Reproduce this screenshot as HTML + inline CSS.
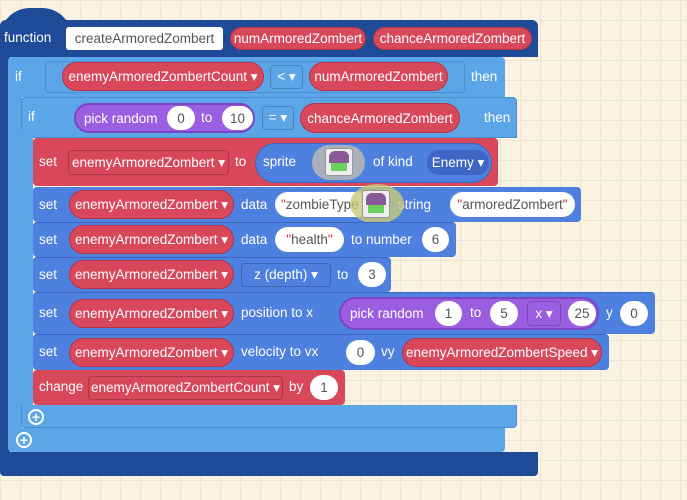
<!DOCTYPE html>
<html><head><meta charset="utf-8"><style>
body{margin:0;width:687px;height:500px;overflow:hidden;background:#fcf2e2;
background-image:linear-gradient(#efe3d2 1px,transparent 1px),linear-gradient(90deg,#efe3d2 1px,transparent 1px);background-size:20px 20px;position:relative;font-family:"Liberation Sans",sans-serif}
div{position:absolute;box-sizing:border-box}
.t{color:#fff;font-size:13.5px;line-height:16px;white-space:nowrap}
.c{display:flex;align-items:center;justify-content:center;color:#fff;font-size:13.5px;white-space:nowrap}
.red{background:#d9485a;border:1px solid #b33446;border-radius:15px}
.wh{background:#fff;color:#555;border-radius:14px}
.dd{border:1px solid rgba(0,0,0,.2);border-radius:4px}
.db{background:#1f4a98}.lb{background:#5ca6e8}.bl{background:#4e80e0}.rd{background:#d9485a}
.pu{background:#9b5ee0;border:2px solid #7b45c4;border-radius:17px}
.ic{background:#eee;border:1px solid #999;border-radius:3px}
.ov{background:#a9b0bc;border-radius:18px}
</style></head><body>
<!-- function block -->
<div class="db" style="left:0;top:20px;width:538px;height:37px;border-radius:6px 6px 0 0"></div>
<div class="db" style="left:0;top:8px;width:72px;height:30px;border-radius:36px 36px 0 0"></div>
<div class="db" style="left:0;top:50px;width:10px;height:420px"></div>
<div class="db" style="left:0;top:452px;width:538px;height:24px;border-radius:0 0 4px 4px"></div>
<div class="t" style="left:4px;top:30px">function</div>
<div class="c" style="left:66px;top:27px;width:157px;height:23px;background:#fff;color:#555;border-radius:3px">createArmoredZombert</div>
<div class="c red" style="left:230px;top:27px;width:136px;height:23px">numArmoredZombert</div>
<div class="c red" style="left:373px;top:27px;width:159px;height:23px">chanceArmoredZombert</div>
<!-- outer if -->
<div class="lb" style="left:8px;top:57px;width:497px;height:40px;border-radius:4px 4px 0 0"></div>
<div class="lb" style="left:8px;top:90px;width:14px;height:350px"></div>
<div class="lb" style="left:8px;top:428px;width:497px;height:24px;border-radius:0 0 4px 4px"></div>
<div class="t" style="left:15px;top:69px">if</div>
<div style="left:45px;top:61px;width:420px;height:32px;border:1px solid #4a8fd0;border-radius:4px"></div>
<div class="c red" style="left:62px;top:62px;width:202px;height:29px">enemyArmoredZombertCount ▾</div>
<div class="c dd" style="left:270px;top:65px;width:33px;height:24px">&lt; ▾</div>
<div class="c red" style="left:309px;top:62px;width:139px;height:29px">numArmoredZombert</div>
<div class="t" style="left:471px;top:69px">then</div>
<div class="c" style="left:16px;top:432px;width:16px;height:16px;border:2px solid #fff;border-radius:50%;font-weight:bold;font-size:14px">+</div>
<!-- inner if -->
<div class="lb" style="left:21px;top:97px;width:496px;height:41px;border-radius:4px 4px 0 0;border:1px solid #4a8fd0"></div>
<div class="lb" style="left:21px;top:130px;width:12px;height:290px"></div>
<div class="lb" style="left:21px;top:405px;width:496px;height:23px;border-radius:0 0 4px 4px;border:1px solid #4a8fd0;border-top:0"></div>
<div class="t" style="left:28px;top:109px">if</div>
<div class="c pu" style="left:74px;top:103px;width:181px;height:30px;justify-content:flex-start;padding-left:8px">pick random</div>
<div class="c wh" style="left:167px;top:106px;width:28px;height:24px">0</div>
<div class="t" style="left:201px;top:110px">to</div>
<div class="c wh" style="left:222px;top:106px;width:31px;height:24px">10</div>
<div class="c dd" style="left:262px;top:106px;width:32px;height:24px">= ▾</div>
<div class="c red" style="left:300px;top:103px;width:160px;height:30px">chanceArmoredZombert</div>
<div class="t" style="left:484px;top:110px">then</div>
<div class="c" style="left:28px;top:409px;width:16px;height:16px;border:2px solid #fff;border-radius:50%;font-weight:bold;font-size:14px">+</div>
<!-- set sprite -->
<div class="rd" style="left:33px;top:138px;width:465px;height:48px;border-radius:4px"></div>
<div class="t" style="left:39px;top:154px">set</div>
<div class="c dd" style="left:68px;top:150px;width:161px;height:25px">enemyArmoredZombert ▾</div>
<div class="t" style="left:235px;top:154px">to</div>
<div class="bl" style="left:255px;top:143px;width:237px;height:40px;border-radius:20px;border:1px solid #3c66c0"></div>
<div class="t" style="left:263px;top:154px">sprite</div>
<div class="ov" style="left:312px;top:145px;width:53px;height:35px"></div>
<div class="ic" style="left:325px;top:148px;width:28px;height:28px"></div>
<div style="left:329px;top:151px;width:20px;height:12px;background:#8a5a98;border-radius:6px 6px 0 0"></div>
<div style="left:331px;top:163px;width:16px;height:8px;background:#6bd05c"></div>
<div class="t" style="left:373px;top:154px">of kind</div>
<div class="c" style="left:427px;top:150px;width:62px;height:25px;background:#3f66c4;border-radius:12px">Enemy ▾</div>
<!-- data zombieType -->
<div class="bl" style="left:33px;top:187px;width:548px;height:35px;border-radius:4px"></div>
<div class="t" style="left:39px;top:197px">set</div>
<div class="c red" style="left:69px;top:190px;width:165px;height:29px">enemyArmoredZombert ▾</div>
<div class="t" style="left:241px;top:197px">data</div>
<div class="c wh" style="left:275px;top:192px;width:95px;height:25px;justify-content:flex-start;padding-left:6px"><span style="color:#d33">"</span>zombieType</div>
<div class="t" style="left:398px;top:197px">string</div>
<div style="left:350px;top:184px;width:54px;height:40px;border-radius:50%;background:rgba(200,200,120,.8)"></div>
<div class="ic" style="left:362px;top:190px;width:28px;height:28px"></div>
<div style="left:366px;top:193px;width:20px;height:12px;background:#8a5a98;border-radius:6px 6px 0 0"></div>
<div style="left:368px;top:205px;width:16px;height:8px;background:#6bd05c"></div>
<div class="c wh" style="left:450px;top:192px;width:125px;height:25px"><span style="color:#d33">"</span>armoredZombert<span style="color:#d33">"</span></div>
<!-- health -->
<div class="bl" style="left:33px;top:222px;width:423px;height:35px;border-radius:4px;border-top:1px solid #3c66c0"></div>
<div class="t" style="left:39px;top:232px">set</div>
<div class="c red" style="left:69px;top:225px;width:165px;height:29px">enemyArmoredZombert ▾</div>
<div class="t" style="left:241px;top:232px">data</div>
<div class="c wh" style="left:275px;top:227px;width:69px;height:25px"><span style="color:#d33">"</span>health<span style="color:#d33">"</span></div>
<div class="t" style="left:351px;top:232px">to number</div>
<div class="c wh" style="left:422px;top:227px;width:27px;height:25px">6</div>
<!-- z -->
<div class="bl" style="left:33px;top:257px;width:358px;height:35px;border-radius:4px;border-top:1px solid #3c66c0"></div>
<div class="t" style="left:39px;top:267px">set</div>
<div class="c red" style="left:69px;top:260px;width:165px;height:29px">enemyArmoredZombert ▾</div>
<div class="c dd" style="left:241px;top:263px;width:90px;height:24px">z (depth) ▾</div>
<div class="t" style="left:337px;top:267px">to</div>
<div class="c wh" style="left:358px;top:262px;width:28px;height:25px">3</div>
<!-- position -->
<div class="bl" style="left:33px;top:292px;width:622px;height:42px;border-radius:4px;border-top:1px solid #3c66c0"></div>
<div class="t" style="left:39px;top:305px">set</div>
<div class="c red" style="left:69px;top:299px;width:165px;height:29px">enemyArmoredZombert ▾</div>
<div class="t" style="left:241px;top:305px">position to x</div>
<div class="c pu" style="left:339px;top:297px;width:260px;height:33px;justify-content:flex-start;padding-left:9px">pick random</div>
<div class="c wh" style="left:435px;top:301px;width:27px;height:25px">1</div>
<div class="t" style="left:470px;top:305px">to</div>
<div class="c wh" style="left:490px;top:301px;width:28px;height:25px">5</div>
<div class="c dd" style="left:527px;top:301px;width:34px;height:25px">x ▾</div>
<div class="c wh" style="left:568px;top:301px;width:28px;height:25px">25</div>
<div class="t" style="left:606px;top:305px">y</div>
<div class="c wh" style="left:620px;top:301px;width:28px;height:25px">0</div>
<!-- velocity -->
<div class="bl" style="left:33px;top:334px;width:576px;height:36px;border-radius:4px;border-top:1px solid #3c66c0"></div>
<div class="t" style="left:39px;top:344px">set</div>
<div class="c red" style="left:69px;top:338px;width:165px;height:29px">enemyArmoredZombert ▾</div>
<div class="t" style="left:241px;top:344px">velocity to vx</div>
<div class="c wh" style="left:346px;top:340px;width:29px;height:25px">0</div>
<div class="t" style="left:381px;top:344px">vy</div>
<div class="c red" style="left:402px;top:338px;width:200px;height:29px">enemyArmoredZombertSpeed ▾</div>
<!-- change -->
<div class="rd" style="left:33px;top:370px;width:312px;height:35px;border-radius:4px"></div>
<div class="t" style="left:39px;top:379px">change</div>
<div class="c dd" style="left:88px;top:376px;width:195px;height:24px">enemyArmoredZombertCount ▾</div>
<div class="t" style="left:289px;top:379px">by</div>
<div class="c wh" style="left:310px;top:375px;width:28px;height:25px">1</div>
</body></html>
